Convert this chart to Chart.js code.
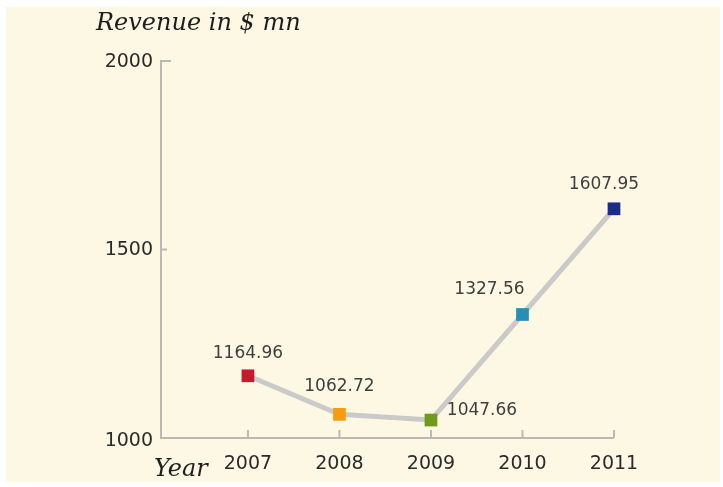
<!DOCTYPE html>
<html>
<head>
<meta charset="utf-8">
<script src="https://cdn.jsdelivr.net/npm/chart.js@4.4.0/dist/chart.umd.min.js"></script>
<style>
  html, body { margin: 0; padding: 0; background: #ffffff; }
  #wrap { width: 723px; height: 487px; position: relative; }
</style>
</head>
<body>
<div id="wrap"><canvas id="revChart" width="723" height="487"></canvas></div>
<script>
const years = [2007, 2008, 2009, 2010, 2011];
const revenue = [1164.96, 1062.72, 1047.66, 1327.56, 1607.95];
const yTicks = [1000, 1500, 2000];
const markerColors = ['#c8182c', '#f59d0e', '#6f9a1c', '#2a8db5', '#1b2d8a'];
// where each value label sits relative to its marker
const labelOffsets = [[0, -22], [0, -28], [51, -9], [-33, -25], [-10, -24]];

const tickFont = '19px "DejaVu Sans"';
const axisColor = '#b9b9b6';

// cream panel, hand drawn axes and texts
const decor = {
    id: 'decor',
    beforeDraw(chart) {
        const ctx = chart.ctx;
        ctx.save();
        ctx.fillStyle = '#fdf8e4';
        ctx.fillRect(6, 7, 714, 475);
        ctx.restore();
    },
    beforeDatasetsDraw(chart) {
        const ctx = chart.ctx;
        const xs = chart.scales.x, ys = chart.scales.y;
        const left = xs.getPixelForValue(xs.min);
        const right = xs.getPixelForValue(years[years.length - 1]);
        const bottom = ys.getPixelForValue(1000);
        const top = ys.getPixelForValue(2000);

        ctx.save();
        ctx.strokeStyle = axisColor;
        ctx.lineWidth = 2;
        ctx.beginPath();
        ctx.moveTo(left + 10, top);
        ctx.lineTo(left, top);
        ctx.lineTo(left, bottom);
        ctx.lineTo(right, bottom);
        ctx.stroke();

        // y ticks (inward)
        yTicks.forEach(v => {
            if (v === 1000 || v === 2000) return;
            const py = ys.getPixelForValue(v);
            ctx.beginPath();
            ctx.moveTo(left, py);
            ctx.lineTo(left + 6, py);
            ctx.stroke();
        });
        // x ticks (upward)
        years.forEach(yr => {
            const px = xs.getPixelForValue(yr);
            ctx.beginPath();
            ctx.moveTo(px, bottom);
            ctx.lineTo(px, bottom - 8);
            ctx.stroke();
        });

        ctx.fillStyle = '#2a2a2a';
        ctx.font = tickFont;
        ctx.textBaseline = 'middle';
        ctx.textAlign = 'right';
        yTicks.forEach(v => {
            const py = ys.getPixelForValue(v);
            ctx.fillText(String(v), left - 8, py + (v === 1000 ? 3 : 1));
        });
        ctx.textAlign = 'center';
        years.forEach(yr => {
            ctx.fillText(String(yr), xs.getPixelForValue(yr), bottom + 26);
        });

        ctx.fillStyle = '#1e1e1e';
        ctx.textAlign = 'left';
        ctx.font = 'italic 24px "DejaVu Serif"';
        ctx.fillText('Revenue in $ mn', 96, 24);
        ctx.fillText('Year', 154, 470);
        ctx.restore();
    },
    afterDatasetsDraw(chart) {
        const ctx = chart.ctx;
        const meta = chart.getDatasetMeta(0);
        ctx.save();
        ctx.fillStyle = '#3e3e3e';
        ctx.font = '17px "DejaVu Sans"';
        ctx.textAlign = 'center';
        ctx.textBaseline = 'middle';
        meta.data.forEach((pt, i) => {
            const off = labelOffsets[i];
            ctx.fillText(revenue[i].toFixed(2), pt.x + off[0], pt.y + off[1]);
        });
        ctx.restore();
    }
};

new Chart(document.getElementById('revChart'), {
    type: 'line',
    data: {
        datasets: [{
            data: years.map((yr, i) => ({ x: yr, y: revenue[i] })),
            borderColor: '#cacac8',
            borderWidth: 5,
            tension: 0,
            pointStyle: 'rect',
            pointRadius: 9,
            pointHoverRadius: 9,
            pointBackgroundColor: markerColors,
            pointBorderColor: markerColors,
            pointBorderWidth: 0,
            clip: false
        }]
    },
    options: {
        responsive: false,
        animation: false,
        events: [],
        layout: { padding: { left: 161, top: 61, right: 109, bottom: 49 } },
        plugins: { legend: { display: false }, tooltip: { enabled: false } },
        scales: {
            x: { type: 'linear', min: 2006.05, max: 2011, display: false },
            y: { min: 1000, max: 2000, display: false }
        }
    },
    plugins: [decor]
});
</script>
</body>
</html>
